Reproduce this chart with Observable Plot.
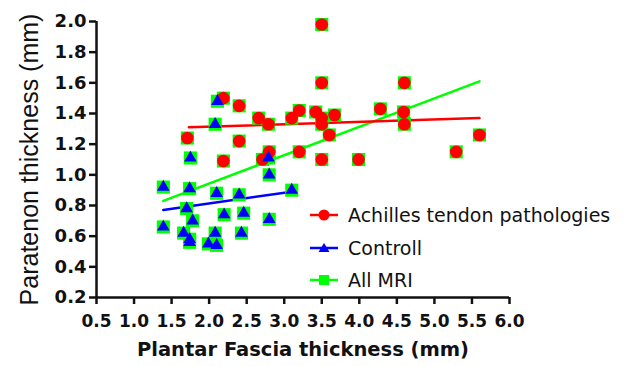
<!DOCTYPE html>
<html>
<head>
<meta charset="utf-8">
<script src="https://cdn.jsdelivr.net/npm/d3@7"></script>
<script src="https://cdn.jsdelivr.net/npm/@observablehq/plot@0.6"></script>
<style>
  html, body { margin: 0; padding: 0; background: #fff; }
  #wrap { position: relative; width: 629px; height: 366px; }
  #legend { position: absolute; left: 308px; top: 199px; font-family: "DejaVu Sans", sans-serif; font-size: 19px; color: #111; }
  #legend .row { display: flex; align-items: center; height: 32.5px; }
  #legend svg { margin-right: 8px; }
</style>
</head>
<body>
<div id="wrap"></div>
<script>
// Achilles tendon pathologies (plantar fascia mm, paratenon mm)
const achillesX = [1.71, 2.19, 2.40, 2.40, 2.19, 2.66, 2.79, 2.80, 2.71, 3.10, 3.20, 3.42, 3.50, 3.50, 3.67, 3.60, 3.20, 3.50, 3.99, 3.50, 3.50, 4.28, 4.60, 4.59, 4.60, 5.60, 5.29];
const achillesY = [1.24, 1.50, 1.45, 1.22, 1.09, 1.37, 1.33, 1.15, 1.10, 1.37, 1.42, 1.41, 1.37, 1.33, 1.39, 1.26, 1.15, 1.10, 1.10, 1.98, 1.60, 1.43, 1.60, 1.41, 1.33, 1.26, 1.15];
// Controll
const controlX = [2.11, 2.08, 1.75, 2.79, 2.80, 1.39, 1.74, 2.10, 2.40, 3.10, 1.70, 1.78, 2.20, 2.46, 2.80, 1.39, 1.66, 1.74, 1.74, 2.08, 2.43, 1.99, 2.10];
const controlY = [1.48, 1.33, 1.11, 1.11, 1.00, 0.92, 0.91, 0.88, 0.87, 0.90, 0.78, 0.70, 0.74, 0.75, 0.71, 0.66, 0.62, 0.58, 0.56, 0.62, 0.62, 0.55, 0.54];
// Fitted lines (endpoints)
const fitAchillesX = [1.73, 5.60];
const fitAchillesY = [1.31, 1.37];
const fitControlX = [1.39, 3.10];
const fitControlY = [0.77, 0.89];
const fitAllX = [1.39, 5.60];
const fitAllY = [0.83, 1.61];
// Axes
const xTicks = [0.5, 1.0, 1.5, 2.0, 2.5, 3.0, 3.5, 4.0, 4.5, 5.0, 5.5, 6.0];
const yTicks = [0.2, 0.4, 0.6, 0.8, 1.0, 1.2, 1.4, 1.6, 1.8, 2.0];
const xLabel = "Plantar Fascia thickness (mm)";
const yLabel = "Paratenon thickness (mm)";
const seriesNames = ["Achilles tendon pathologies", "Controll", "All MRI"];
const colors = ["#ff0000", "#0000ff", "#00ff00"];

const achilles = achillesX.map((x, i) => ({x, y: achillesY[i]}));
const control = controlX.map((x, i) => ({x, y: controlY[i]}));
const allMRI = achilles.concat(control);
const fit = (xs, ys) => xs.map((x, i) => ({x, y: ys[i]}));

const boldFont = "DejaVu Sans";
const chart = Plot.plot({
  width: 629,
  height: 366,
  marginLeft: 96,
  marginTop: 21,
  marginRight: 120,
  marginBottom: 69,
  style: {background: "#fff", color: "#111"},
  x: {domain: [0.5, 6.0]},
  y: {domain: [0.2, 2.0]},
  marks: [
    Plot.line(fit(fitAllX, fitAllY), {x: "x", y: "y", stroke: colors[2], strokeWidth: 2.5}),
    Plot.line(fit(fitAchillesX, fitAchillesY), {x: "x", y: "y", stroke: colors[0], strokeWidth: 2.5}),
    Plot.line(fit(fitControlX, fitControlY), {x: "x", y: "y", stroke: colors[1], strokeWidth: 2.5}),
    Plot.dot(allMRI, {x: "x", y: "y", symbol: "square", r: 7.4, fill: colors[2], stroke: "none"}),
    Plot.dot(achilles, {x: "x", y: "y", symbol: "circle", r: 6.3, fill: colors[0], stroke: "none"}),
    Plot.dot(control, {x: "x", y: "y", symbol: "triangle", r: 4.7, fill: colors[1], stroke: "none"}),
    Plot.axisX({ticks: xTicks, tickFormat: d3.format(".1f"), tickSize: 7, tickPadding: 10, strokeWidth: 2.5,
      fontSize: 17, fontWeight: "bold", fontFamily: boldFont, label: null}),
    Plot.axisY({ticks: yTicks, tickFormat: d3.format(".1f"), tickSize: 7, tickPadding: 3, strokeWidth: 2.5,
      fontSize: 18, fontWeight: "bold", fontFamily: boldFont, label: null}),
    Plot.ruleX([0.5], {strokeWidth: 2.5}),
    Plot.ruleY([0.2], {strokeWidth: 2.5}),
    Plot.text([xLabel], {frameAnchor: "bottom", dy: 58, fontSize: 19.5, fontWeight: "bold", fontFamily: boldFont, fill: "#111"}),
    Plot.text([yLabel], {frameAnchor: "left", textAnchor: "middle", dx: -67, rotate: -90, fontSize: 25, fontFamily: "Liberation Sans", fill: "#111"})
  ]
});
document.getElementById("wrap").appendChild(chart);

// Legend
const legend = document.createElement("div");
legend.id = "legend";
const symbols = [
  '<circle cx="16" cy="8" r="5.5" fill="#ff0000"/>',
  '<path d="M16,3 L21.5,12 L10.5,12 Z" fill="#0000ff"/>',
  '<rect x="11" y="3" width="10" height="10" fill="#00ff00"/>'
];
seriesNames.forEach((name, i) => {
  const row = document.createElement("div");
  row.className = "row";
  row.innerHTML = `<svg width="32" height="16"><line x1="2" x2="30" y1="8" y2="8" stroke="${colors[i]}" stroke-width="2.5"/>${symbols[i]}</svg><span>${name}</span>`;
  legend.appendChild(row);
});
document.getElementById("wrap").appendChild(legend);
</script>
</body>
</html>
